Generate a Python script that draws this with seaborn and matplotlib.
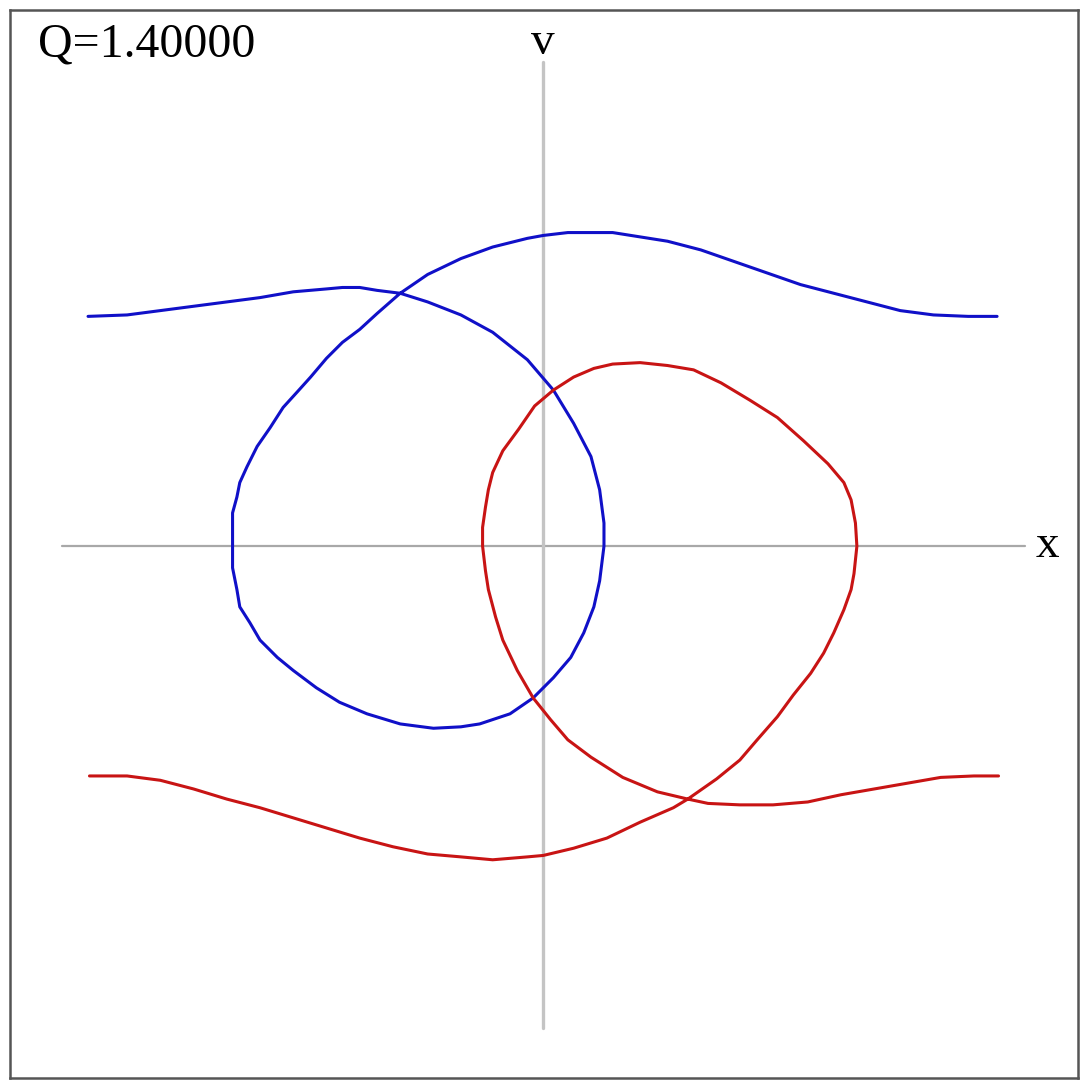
import pandas as pd
import matplotlib
matplotlib.use("Agg")
import matplotlib.pyplot as plt
import seaborn as sns

# phase-space trajectories (x, v)
blue_x = [-3.15, -2.88, -2.65, -2.42, -2.19, -1.96, -1.73, -1.50, -1.39, -1.27,
          -1.15, -0.99, -0.80, -0.57, -0.35, -0.11, 0.07, 0.21, 0.33, 0.39,
          0.42, 0.42, 0.39, 0.35, 0.28, 0.19, 0.07, -0.07, -0.23, -0.44,
          -0.57, -0.76, -0.99, -1.22, -1.41, -1.57, -1.73, -1.84, -1.96, -2.03,
          -2.10, -2.12, -2.15, -2.15, -2.15, -2.12, -2.10, -2.05, -1.98, -1.89,
          -1.80, -1.70, -1.61, -1.50, -1.39, -1.27, -1.15, -0.99, -0.80, -0.57,
          -0.35, -0.11, 0.00, 0.17, 0.30, 0.48, 0.67, 0.86, 1.09, 1.32,
          1.55, 1.78, 2.01, 2.24, 2.47, 2.70, 2.94, 3.14]
blue_v = [1.59, 1.60, 1.63, 1.66, 1.69, 1.72, 1.76, 1.78, 1.79, 1.79,
          1.77, 1.75, 1.69, 1.60, 1.48, 1.29, 1.08, 0.85, 0.62, 0.39,
          0.16, 0.00, -0.24, -0.42, -0.60, -0.77, -0.91, -1.05, -1.16, -1.23,
          -1.25, -1.26, -1.23, -1.16, -1.08, -0.98, -0.86, -0.77, -0.65, -0.53,
          -0.42, -0.30, -0.15, 0.00, 0.23, 0.34, 0.44, 0.55, 0.69, 0.82,
          0.96, 1.07, 1.17, 1.30, 1.41, 1.50, 1.61, 1.75, 1.88, 1.99,
          2.07, 2.13, 2.15, 2.17, 2.17, 2.17, 2.14, 2.11, 2.05, 1.97,
          1.89, 1.81, 1.75, 1.69, 1.63, 1.60, 1.59, 1.59]

red_x = [-3.14, -2.88, -2.65, -2.42, -2.19, -1.96, -1.73, -1.50, -1.27, -1.04,
         -0.80, -0.57, -0.35, -0.11, 0.00, 0.21, 0.44, 0.67, 0.90, 1.00,
         1.20, 1.36, 1.48, 1.62, 1.73, 1.85, 1.94, 2.01, 2.08, 2.13,
         2.15, 2.17, 2.16, 2.13, 2.08, 1.97, 1.80, 1.62, 1.43, 1.23,
         1.04, 0.86, 0.67, 0.48, 0.35, 0.21, 0.07, -0.06, -0.17, -0.28,
         -0.35, -0.38, -0.40, -0.42, -0.42, -0.40, -0.38, -0.33, -0.28, -0.18,
         -0.07, 0.05, 0.17, 0.33, 0.55, 0.79, 1.00, 1.14, 1.36, 1.59,
         1.83, 2.06, 2.29, 2.52, 2.75, 2.98, 3.15]
red_v = [-1.59, -1.59, -1.62, -1.68, -1.75, -1.81, -1.88, -1.95, -2.02, -2.08,
         -2.13, -2.15, -2.17, -2.15, -2.14, -2.09, -2.02, -1.91, -1.81, -1.75,
         -1.61, -1.48, -1.34, -1.18, -1.03, -0.88, -0.74, -0.60, -0.44, -0.30,
         -0.19, 0.00, 0.16, 0.32, 0.44, 0.57, 0.73, 0.89, 1.01, 1.13,
         1.22, 1.25, 1.27, 1.26, 1.23, 1.17, 1.08, 0.97, 0.81, 0.66,
         0.51, 0.39, 0.27, 0.13, 0.00, -0.17, -0.30, -0.49, -0.65, -0.86,
         -1.05, -1.20, -1.34, -1.46, -1.60, -1.70, -1.75, -1.78, -1.79, -1.79,
         -1.77, -1.72, -1.68, -1.64, -1.60, -1.59, -1.59]

q_label = "Q=1.40000"

blue_df = pd.DataFrame({"x": blue_x, "v": blue_v})
red_df = pd.DataFrame({"x": red_x, "v": red_v})

sns.set_style("white")
plt.rcParams["font.family"] = ["Liberation Serif", "DejaVu Serif"]

fig = plt.figure(figsize=(10.88, 10.87), dpi=100)
ax = fig.add_axes([10 / 1088, 9 / 1087, 1068 / 1088, 1068 / 1087])

# axis cross
ax.axhline(0, xmin=0.0487, xmax=0.9504, color="#a8a8a8", lw=1.6, zorder=1)
ax.axvline(0, ymin=0.0468, ymax=0.951, color="#c4c4c4", lw=2.4, zorder=1)

sns.lineplot(data=blue_df, x="x", y="v", sort=False, estimator=None,
             color="#1010c8", lw=2.2, ax=ax, zorder=3)
sns.lineplot(data=red_df, x="x", y="v", sort=False, estimator=None,
             color="#c81414", lw=2.2, ax=ax, zorder=3)

ax.set_xlim(-3.69, 3.70)
ax.set_ylim(-3.68, 3.71)
ax.set_xticks([])
ax.set_yticks([])
ax.set_xlabel("")
ax.set_ylabel("")
for s in ax.spines.values():
    s.set_color("#555555")
    s.set_linewidth(1.8)

ax.text(3.49, 0.0, "x", fontsize=34, color="black", ha="center", va="center")
ax.text(0.0, 3.48, "v", fontsize=34, color="black", ha="center", va="center")
fig.text(38 / 1088, 1 - 56 / 1087, q_label, fontsize=34.5, color="black",
         ha="left", va="baseline")

fig.savefig("out.png", dpi=100)
